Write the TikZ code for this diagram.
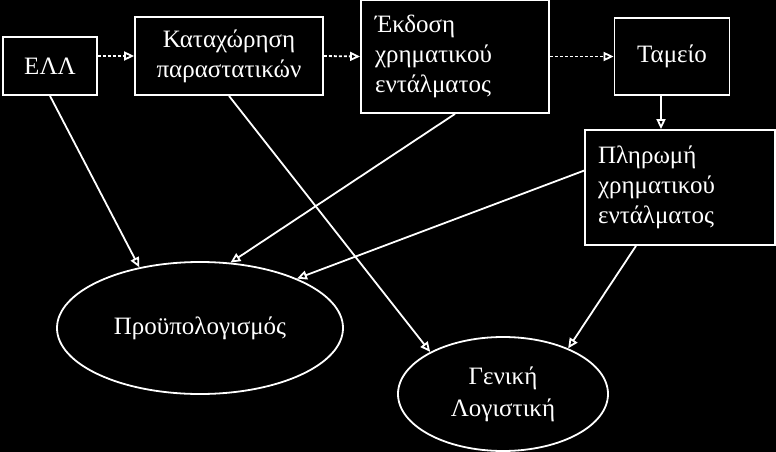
\documentclass[tikz,border=0pt]{standalone}
\usepackage{fontspec}
\setmainfont{Liberation Serif}
\usetikzlibrary{arrows.meta,shapes.geometric}

\begin{document}
\begin{tikzpicture}[x=1pt,y=-1pt]
        \fill[black] (0,0) rectangle (776,452);
        \useasboundingbox (0,0) rectangle (776,452);

        \begin{scope}[every node/.style={rectangle,draw=white,line width=1.8pt,text=white,
            font=\fontsize{25}{30}\selectfont}]
            \node[minimum width=94pt,minimum height=58pt] (ell) at (50,66) {ΕΛΛ};
            \node[minimum width=188pt,minimum height=78pt,align=center] (kat) at (229,56) {Καταχώρηση\\παραστατικών};
            \node[text width=160pt,inner xsep=14pt,minimum height=113pt,align=left] (ekd) at (455,56.5) {Έκδοση\\χρηματικού\\εντάλματος};
            \node[minimum width=115pt,minimum height=77pt] (tam) at (672,56.5) {Ταμείο};
            \node[text width=164pt,inner xsep=13pt,minimum height=115pt,align=left] (plir) at (680,187.5) {Πληρωμή\\χρηματικού\\εντάλματος};
        \end{scope}

        \begin{scope}[every node/.style={ellipse,draw=white,line width=1.8pt,text=white,
            font=\fontsize{25}{32}\selectfont,align=center,inner sep=0pt}]
            \node[minimum width=286pt,minimum height=132pt] (proyp) at (200,328) {Προϋπολογισμός};
            \node[minimum width=210pt,minimum height=114pt] (gen) at (503,394) {Γενική\\Λογιστική};
        \end{scope}

        \begin{scope}[>={Triangle[open,length=10pt,width=9pt]},
            every edge/.style={draw=white,line width=1.8pt}]
            \path [->,dash pattern=on 3pt off 2pt] (kat.west -| ell.east) edge (kat.west);
            \path [->,dash pattern=on 3pt off 2pt] (kat.east) edge (ekd.west);
            \path [->,dash pattern=on 3pt off 2pt] (ekd.east) edge (tam.west);
            \path [->] ([xshift=-11pt]tam.south) edge ([xshift=-11pt]tam.south |- plir.north);
            \path [->] (ell.south) edge (proyp.135);
            \path [->] (kat.south) edge (gen.150);
            \path [->] (ekd.south) edge (proyp.65);
            \path [->] (plir.170) edge (proyp.27);
            \path [->] (plir.-127) edge (gen.35);
        \end{scope}
    \end{tikzpicture}
\end{document}
